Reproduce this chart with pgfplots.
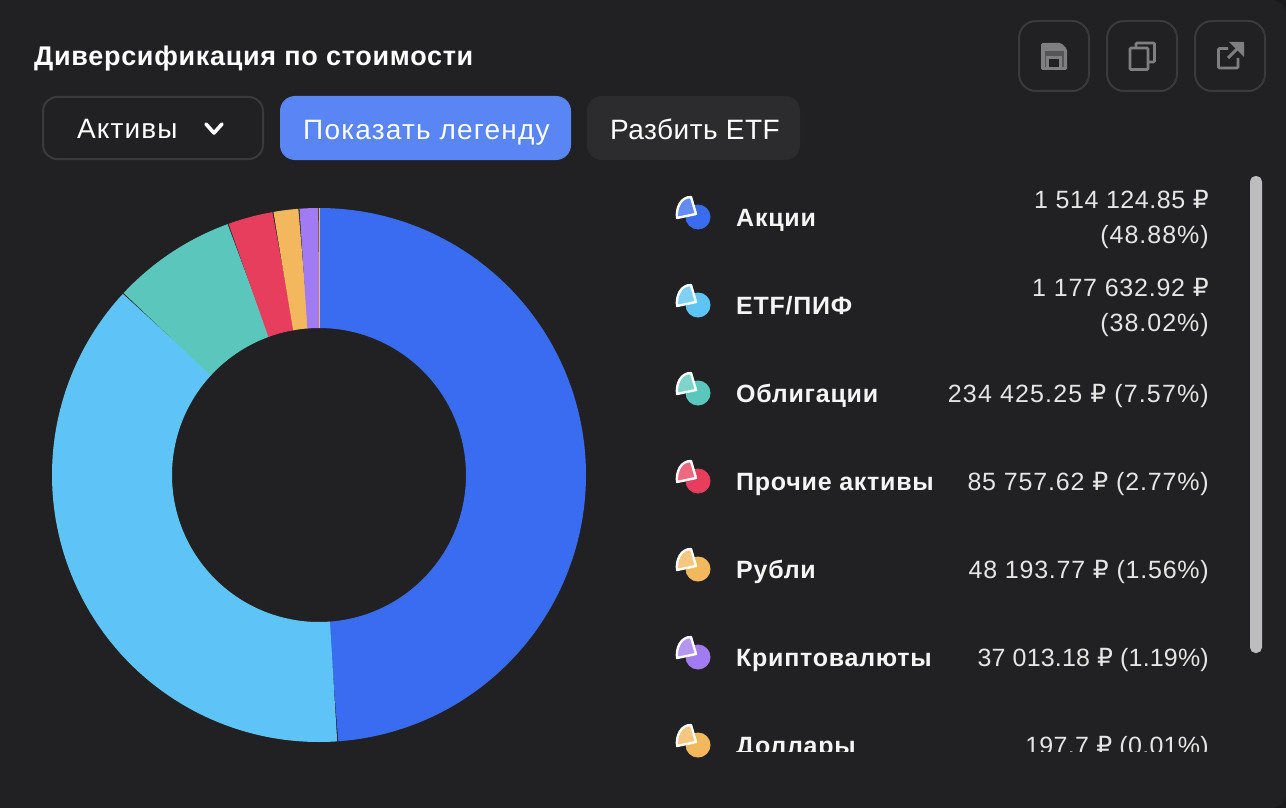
\documentclass[border=0pt]{standalone}
\usepackage{pgfplots}
\usepackage{pgfplotstable}
\usepackage{fontspec}
\pgfplotsset{compat=1.18}
\setmainfont{Liberation Sans}
\newfontfamily\rub{DejaVu Sans}
\definecolor{bg}{HTML}{212123}
\definecolor{outer}{HTML}{1B1B1D}
\definecolor{edge}{HTML}{3A3A3C}
\definecolor{ico}{HTML}{7F7F81}
\definecolor{btnblue}{HTML}{5A85F5}
\definecolor{btngrey}{HTML}{2C2C2E}
\definecolor{slice0}{HTML}{3A6CF1}
\definecolor{slice1}{HTML}{5EC4F7}
\definecolor{slice2}{HTML}{5BC7BC}
\definecolor{slice3}{HTML}{E83E5E}
\definecolor{slice4}{HTML}{F3B85E}
\definecolor{slice5}{HTML}{A07BF3}
\definecolor{slice6}{HTML}{F3B85E}
\pgfplotstableread{
pct
48.88
38.02
7.57
2.77
1.56
1.19
0.01
}\shares
\newcommand\wedgepath{%
  \pgfpathmoveto{\pgfpoint{-2pt}{3pt}}
  \pgfpathlineto{\pgfpoint{-7pt}{20pt}}
  \pgfpathcurveto{\pgfpoint{-17pt}{20pt}}{\pgfpoint{-22pt}{10pt}}{\pgfpoint{-21pt}{-1pt}}
  \pgfpathclose}
\pgfdeclareplotmark{legicon}{%
  \pgfpathcircle{\pgfpoint{0pt}{0pt}}{12.5pt}\pgfusepathqfill
  \wedgepath\pgfusepathqfill
  {\pgfsetfillcolor{white}\pgfsetfillopacity{0.22}\wedgepath\pgfusepathqfill}
  \pgfsetstrokecolor{white}\pgfsetlinewidth{2.4pt}\pgfsetroundjoin
  \wedgepath\pgfusepathqstroke
}
\newcommand\lab[2]{\node[anchor=base west,inner sep=0pt,text=white!96!black,font=\fontsize{25}{25}\selectfont\bfseries\addfontfeatures{LetterSpace=3}] at (axis cs:736,#1) {#2};}
% \val{baseline}{letter spacing}{text}
\newcommand\val[3]{\node[anchor=base east,inner sep=0pt,text=white!90!black,font=\fontsize{25}{25}\selectfont\addfontfeatures{LetterSpace=#2}] at (axis cs:1209,#1) {#3};}
\newcommand\R{{\rub ₽}}
\newcommand\btn[4]{\node[anchor=base west,inner sep=0pt,text=white,font=\fontsize{28}{28}\selectfont\addfontfeatures{LetterSpace=#4}] at (axis cs:#1,#2) {#3};}
\begin{document}
\begin{tikzpicture}
\begin{axis}[at={(0,0)},anchor=south west,scale only axis,width=1286pt,height=808pt,
  xmin=0,xmax=1286,ymin=0,ymax=808,y dir=reverse,axis lines=none,clip=false]
\fill[outer] (axis cs:0,0) rectangle (axis cs:1286,808);
\fill[bg] (axis cs:0,0) [rounded corners=15pt] -- (axis cs:1286,0) -- (axis cs:1286,808) [sharp corners] -- (axis cs:0,808) -- cycle;
% donut
\gdef\startA{0}
\pgfplotsforeachungrouped \i in {0,...,6}{%
  \pgfplotstablegetelem{\i}{pct}\of\shares
  \pgfmathsetmacro\endA{\startA+3.6*\pgfplotsretval}
  \pgfmathtruncatemacro\nS{max(2,3.6*\pgfplotsretval+2)}
  \edef\tmp{\noexpand\addplot[draw=slice\i,line width=120pt,line cap=butt,no marks,domain=\startA:\endA,samples=\nS]
    ({319+207*sin(x)},{475-207*cos(x)});}
  \tmp
  \global\let\startA\endA
}
% title and buttons
\node[anchor=base west,inner sep=0pt,text=white,font=\fontsize{27}{27}\selectfont\bfseries\addfontfeatures{LetterSpace=2.6}] at (axis cs:34,66) {Диверсификация по стоимости};
\draw[edge,line width=2pt,rounded corners=14pt] (axis cs:43,97) rectangle (axis cs:263,159);
\fill[btnblue,rounded corners=15pt] (axis cs:280,96) rectangle (axis cs:571,160);
\fill[btngrey,rounded corners=15pt] (axis cs:587,96) rectangle (axis cs:800,160);
\btn{77}{138}{Активы}{4}
\btn{303}{139.5}{Показать легенду}{4.3}
\btn{610}{139.5}{Разбить ETF}{1.7}
\draw[white,line width=3.6pt,line cap=round,line join=round] (axis cs:206,124) -- (axis cs:214,133) -- (axis cs:222,124);
% toolbar
\draw[edge,line width=2pt,rounded corners=17pt] (axis cs:1019,21) rectangle (axis cs:1089,91);
\draw[edge,line width=2pt,rounded corners=17pt] (axis cs:1107,21) rectangle (axis cs:1177,91);
\draw[edge,line width=2pt,rounded corners=17pt] (axis cs:1195,21) rectangle (axis cs:1265,91);
\fill[ico,rounded corners=1.5pt] (axis cs:1041,43) -- (axis cs:1061,43) -- (axis cs:1067,49) -- (axis cs:1067,70) -- (axis cs:1041,70) -- cycle;
\fill[bg!45!ico] (axis cs:1044.5,51) rectangle (axis cs:1063.5,67);
\fill[ico] (axis cs:1047,43) rectangle (axis cs:1060,51);
\fill[ico] (axis cs:1046,56) rectangle (axis cs:1062,68);
\fill[bg] (axis cs:1049,59) rectangle (axis cs:1059,67);
\draw[ico,line width=2.6pt,rounded corners=1pt] (axis cs:1136,47) -- (axis cs:1136,43) -- (axis cs:1154.5,43) -- (axis cs:1154.5,62) -- (axis cs:1149,62);
\draw[ico,line width=2.6pt,rounded corners=1pt] (axis cs:1130,48) rectangle (axis cs:1148,69.5);
\draw[ico,line width=2.6pt,rounded corners=1pt] (axis cs:1228,48.5) -- (axis cs:1218.5,48.5) -- (axis cs:1218.5,68) -- (axis cs:1238,68) -- (axis cs:1238,58);
\draw[ico,line width=3pt] (axis cs:1228,58) -- (axis cs:1240,46);
\fill[ico] (axis cs:1244,42) -- (axis cs:1244,57) -- (axis cs:1229,42) -- cycle;
% scrollbar
\fill[white!74!black,rounded corners=5.5pt] (axis cs:1250,176) rectangle (axis cs:1262,653);
% legend
\addplot[only marks,mark=legicon,color=slice0] coordinates {(698,217)};
\addplot[only marks,mark=legicon,color=slice1] coordinates {(698,305)};
\addplot[only marks,mark=legicon,color=slice2] coordinates {(698,393)};
\addplot[only marks,mark=legicon,color=slice3] coordinates {(698,481)};
\addplot[only marks,mark=legicon,color=slice4] coordinates {(698,569)};
\addplot[only marks,mark=legicon,color=slice5] coordinates {(698,657)};
\addplot[only marks,mark=legicon,color=slice6] coordinates {(698,745)};
\lab{226}{Акции}
\lab{314}{ETF/ПИФ}
\lab{402}{Облигации}
\lab{490}{Прочие активы}
\lab{578}{Рубли}
\lab{666}{Криптовалюты}
\lab{754}{Доллары}
\val{208}{2.3}{1 514 124.85 \R}
\val{243}{4}{(48.88\%)}
\val{296}{3.1}{1 177 632.92 \R}
\val{331}{4}{(38.02\%)}
\val{402}{4.6}{234 425.25 \R\ (7.57\%)}
\val{490}{3.4}{85 757.62 \R\ (2.77\%)}
\val{578}{3.1}{48 193.77 \R\ (1.56\%)}
\val{666}{0.7}{37 013.18 \R\ (1.19\%)}
\val{754}{1.2}{197.7 \R\ (0.01\%)}
\fill[bg] (axis cs:660,752) rectangle (axis cs:1240,808);
\end{axis}
\end{tikzpicture}
\end{document}
